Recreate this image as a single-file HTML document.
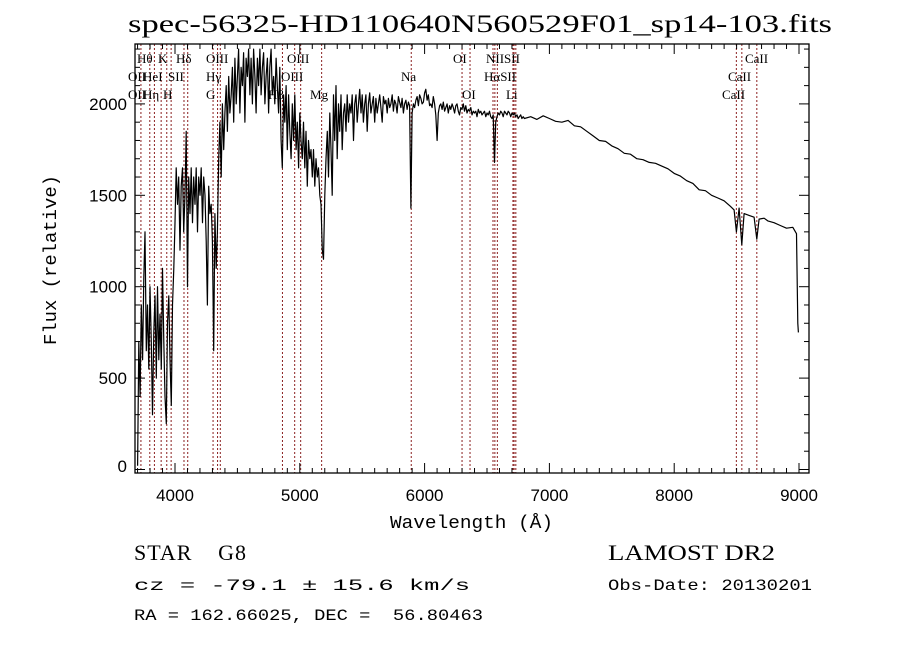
<!DOCTYPE html>
<html><head><meta charset="utf-8"><style>
body{margin:0;background:#fff;}
svg{display:block;}
</style></head><body>
<svg id="chart" width="900" height="649" xmlns="http://www.w3.org/2000/svg">
<rect width="900" height="649" fill="#fff"/>
<text x="128" y="32" textLength="704" lengthAdjust="spacingAndGlyphs" font-family="Liberation Serif, serif" font-size="25">spec-56325-HD110640N560529F01_sp14-103.fits</text>
<g id="lines"></g>
<g id="labels" font-family="Liberation Serif, DejaVu Serif, serif" font-size="13"></g>
<polyline id="spec" fill="none" stroke="#000" stroke-width="1.2" stroke-linejoin="round"/>
<g id="axes" stroke="#000"></g>
<g id="ticklabels" font-family="Liberation Sans, sans-serif" font-size="17"></g>
<text x="390" y="528" textLength="163" lengthAdjust="spacingAndGlyphs" font-family="Liberation Mono, monospace" font-size="18">Wavelength (Å)</text>
<text transform="translate(56,345) rotate(-90)" textLength="170" lengthAdjust="spacingAndGlyphs" font-family="Liberation Mono, monospace" font-size="18">Flux (relative)</text>
<text x="134" y="560" textLength="112" lengthAdjust="spacing" font-family="Liberation Serif, serif" font-size="22" xml:space="preserve">STAR    G8</text>
<text x="134" y="590" textLength="336" lengthAdjust="spacingAndGlyphs" font-family="Liberation Mono, monospace" font-size="16">cz = -79.1 ± 15.6 km/s</text>
<text x="134" y="620" textLength="349" lengthAdjust="spacingAndGlyphs" font-family="Liberation Mono, monospace" font-size="16" xml:space="preserve">RA = 162.66025, DEC =  56.80463</text>
<text x="608" y="560" textLength="167" lengthAdjust="spacingAndGlyphs" font-family="Liberation Serif, serif" font-size="22">LAMOST DR2</text>
<text x="608" y="590" textLength="204" lengthAdjust="spacingAndGlyphs" font-family="Liberation Mono, monospace" font-size="16">Obs-Date: 20130201</text>
</svg>
<script>
const gridFlux=[20,700,400,900,600,1050,1300,650,900,550,1000,700,300,750,950,500,1000,600,850,550,1100,700,400,250,800,950,600,350,900,1100,1350,1650,1450,1600,1200,1550,1650,1300,1500,1850,1000,1600,1400,1650,1350,1600,1450,1650,1300,1600,1500,1650,1350,1600,1500,1250,900,1550,1400,1450,1250,650,1400,1100,1300,1700,1900,1600,2000,1750,1950,
2100,1850,2150,1950,2050,2200,1900,2250,2000,2150,
2300,1950,2200,2100,2280,1900,2250,2150,2300,2050,
2250,2000,2300,2150,1950,2250,2100,2300,2050,2200,
2280,2000,2150,2250,1950,2200,2300,2050,2150,2000,
2250,2100,1950,2200,1800,1650,2050,1900,2100,1750,
2050,1850,1700,2000,1800,2050,1750,1900,1650,1950,
1800,1700,1900,1650,1850,1550,1800,1700,1750,1600,
1750,1550,1700,1600,1650,1500,1450,1200,1150,1500,
1700,1850,1600,1950,1750,1500,2050,1800,2100,1700,
2000,1850,2050,1750,1950,2000,1850,2050,1900,2000,
1950,2050,1800,2000,2050,1900,2000,2080,1950,2050,
1900,2000,2050,1850,2000,2060,1950,2000,2040,1900,
2030,1950,2000,2050,1980,1900,2040,2000,2020,1950,
2030,1980,2000,2050,1960,2020,2000,1950,2040,2010,
1980,2030,1950,2000,2020,1970,2010,1990,1430,1950,
2000,1980,2020,2040,1990,2050,2030,2000,2010,2060,
2080,2020,2050,1990,2000,1980,2040,2000,1940,1800,
1950,1990,2000,1970,2010,1960,1980,2000,1950,1990,
1970,2000,1980,1950,1990,2000,1960,1940,1980,1970,
2000,1960,1990,1950,1970,1960,1980,1940,1960,1950,
1960,1930,1970,1950,1960,1940,1950,1960,1930,1950,
1940,1960,1930,1920,1940,1680,1900,1930,1950,1940,
1960,1950,1930,1960,1950,1940,1960,1950,1930,1950,
1940,1950,1930,1940,1920,1930,1940,1920,1930,1920];
const redWaves=[6850,6900,6950,7000,7050,7100,7150,7200,7250,7300,7350,7400,7450,7500,7550,7600,7650,7700,7750,7800,7850,7900,7950,8000,8050,8100,8150,8200,8250,8300,8350,8400,8450,8480,8498,8520,8542,8560,8600,8640,8662,8680,8720,8750,8800,8850,8900,8950,8980,8990,8995];
const redFlux=[1930,1915,1935,1920,1905,1900,1910,1880,1875,1850,1825,1800,1795,1770,1755,1730,1725,1700,1695,1680,1675,1660,1645,1620,1605,1580,1565,1530,1525,1500,1485,1470,1440,1420,1300,1430,1230,1400,1390,1380,1260,1370,1375,1360,1350,1335,1320,1325,1290,800,750];
const lineWaves=[3727,3798,3835,3889,3934,3969,4072,4102,4305,4341,4363,4861,4959,5007,5175,5893,6300,6364,6548,6563,6583,6708,6717,6731,8498,8542,8662];
const labelTexts=["Hθ","K","Hδ","OIII","OIII","OI","NIISII","CaII","OII","HeI","SII","Hγ","OIII","Na","HαSII","CaII","OII","Hη","H","G","Hβ","Mg","OI","Li","CaII"];
const labelWaves=[3696,3864,4008,4248,4897,6228,6492,8567,3623,3744,3944,4248,4849,5811,6476,8431,3623,3744,3904,4248,4745,5082,6300,6652,8383];
const labelRows=[0,0,0,0,0,0,0,0,1,1,1,1,1,1,1,1,2,2,2,2,2,2,2,2,2];
const xTicks=[4000,5000,6000,7000,8000,9000];
const yTicks=[0,500,1000,1500,2000];
const gridWaves=gridFlux.map((_,i)=>3700+10*i);
const waves=gridWaves.concat(redWaves);
const flux=gridFlux.concat(redFlux);

const L=135,R=809,T=44,B=473;
const xs=w=>175+(w-4000)*0.1248;
const ys=v=>469.5-v*0.1828;
const NS="http://www.w3.org/2000/svg";
function mk(tag,parent){const e=document.createElementNS(NS,tag);parent.appendChild(e);return e;}

const spec=document.getElementById('spec');
spec.setAttribute('points',waves.map((w,i)=>xs(w).toFixed(1)+','+ys(flux[i]).toFixed(1)).join(' '));

const lg=document.getElementById('lines');
lineWaves.forEach(w=>{
  const l=mk('line',lg);
  
  
  l.setAttribute('x1',xs(w));l.setAttribute('x2',xs(w));
  l.setAttribute('y1',T);l.setAttribute('y2',B);
  l.setAttribute('stroke','#8b2020');l.setAttribute('stroke-width','1');
  l.setAttribute('stroke-dasharray','2,2');
});
const lab=document.getElementById('labels');
labelTexts.forEach((t,i)=>{
  const e=mk('text',lab);
  
  
  e.setAttribute('x',xs(labelWaves[i]));
  e.setAttribute('y',63+labelRows[i]*18);
  e.textContent=t;
});

const ax=document.getElementById('axes');
const box=mk('rect',ax);


box.setAttribute('x',L);box.setAttribute('y',T);box.setAttribute('width',R-L);box.setAttribute('height',B-T);
box.setAttribute('fill','none');box.setAttribute('stroke-width','1.3');
for(let w=3700;w<=9080;w+=100){
  const x=xs(w);if(x<L||x>R)continue;
  const len=(w%1000===0)?10:5;
  [[B,B-len],[T,T+len]].forEach(p=>{
    const t=mk('line',ax);
    
    
    t.setAttribute('x1',x);t.setAttribute('x2',x);t.setAttribute('y1',p[0]);t.setAttribute('y2',p[1]);
  });
}
for(let v=0;v<=2300;v+=100){
  const y=ys(v);if(y<T||y>B)continue;
  const len=(v%500===0)?10:5;
  [[L,L+len],[R,R-len]].forEach(p=>{
    const t=mk('line',ax);
    
    
    t.setAttribute('x1',p[0]);t.setAttribute('x2',p[1]);t.setAttribute('y1',y);t.setAttribute('y2',y);
  });
}
const tl=document.getElementById('ticklabels');
xTicks.forEach(w=>{
  const e=mk('text',tl);
  
  
  e.setAttribute('x',xs(w));e.setAttribute('y',501);e.setAttribute('text-anchor','middle');
  e.textContent=w;
});
yTicks.forEach(v=>{
  const e=mk('text',tl);
  
  
  e.setAttribute('x',127);e.setAttribute('y',Math.min(ys(v)+6,472));e.setAttribute('text-anchor','end');
  e.textContent=v;
});
</script>
</body></html>
